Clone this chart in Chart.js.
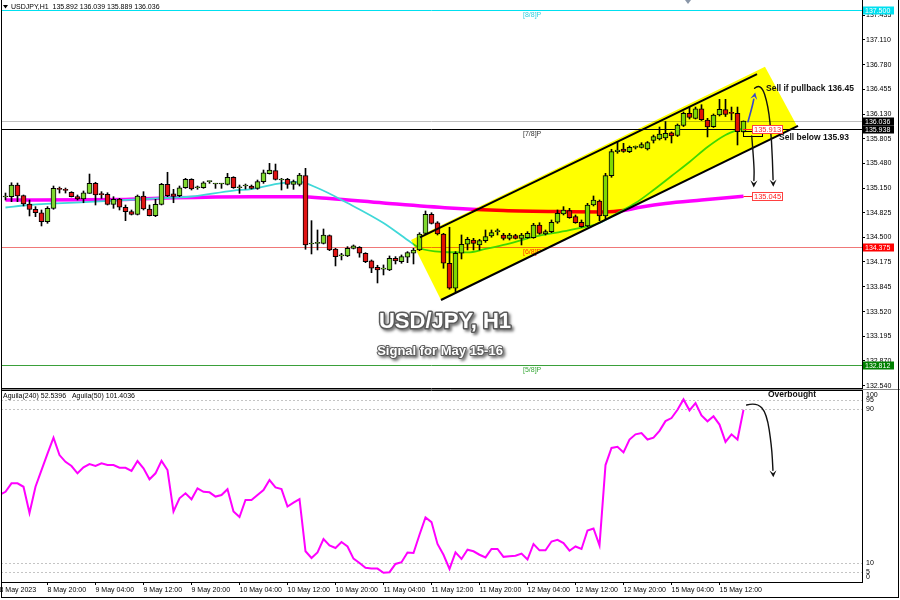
<!DOCTYPE html>
<html><head><meta charset="utf-8">
<script src="https://cdn.jsdelivr.net/npm/chart.js@4.4.0/dist/chart.umd.min.js"></script>
<style>
html,body{margin:0;padding:0;background:#fff;}
#wrap{position:relative;width:900px;height:600px;overflow:hidden;background:#fff;}
#main{position:absolute;left:0;top:0;}
#osc{position:absolute;left:0;top:388px;}
#frame{position:absolute;left:1px;top:-1px;width:896px;height:597px;border:1px solid #000;pointer-events:none;}
</style></head><body>
<div id="wrap"><canvas id="main" width="900" height="390"></canvas><canvas id="osc" width="900" height="212"></canvas><div id="frame"></div></div>
<script>
// ---------------- DATA ----------------
const open = [135.034,135.038,135.192,135.051,134.941,134.871,134.826,134.708,134.884,135.139,
135.126,135.096,135.038,135.007,135.082,135.214,135.069,135.069,134.937,135.007,
134.898,134.840,134.805,135.047,134.875,134.787,134.937,135.201,135.075,135.051,
135.156,135.267,135.156,135.156,135.236,135.205,135.205,135.201,135.294,135.156,
135.179,135.179,135.148,135.236,135.341,135.381,135.258,135.267,135.201,135.201,
135.315,134.413,134.422,134.422,134.523,134.347,134.255,134.255,134.356,134.370,
134.290,134.189,134.106,134.080,134.070,134.224,134.180,134.238,134.290,134.334,
134.554,134.805,134.694,134.545,134.158,133.828,134.290,134.409,134.466,134.400,
134.457,134.519,134.576,134.532,134.488,134.523,134.488,134.497,134.497,134.664,
134.545,134.576,134.700,134.809,134.853,134.774,134.700,134.651,134.928,134.981,
134.783,135.315,135.632,135.668,135.632,135.690,135.690,135.668,135.781,135.800,
135.814,135.880,135.846,135.978,136.139,136.073,136.200,136.051,135.962,136.117,
136.190,136.143,136.139,135.892];
const high = [135.086,135.222,135.218,135.060,134.994,134.906,134.862,134.906,135.179,135.166,
135.152,135.104,135.060,135.113,135.337,135.228,135.104,135.090,135.038,135.016,
134.928,134.862,135.060,135.104,134.928,135.003,135.214,135.360,135.135,135.179,
135.280,135.275,135.179,135.236,135.245,135.214,135.214,135.346,135.302,135.192,
135.205,135.192,135.258,135.390,135.478,135.469,135.280,135.280,135.258,135.346,
135.412,134.721,134.598,134.611,134.532,134.356,134.290,134.378,134.400,134.378,
134.298,134.202,134.132,134.136,134.255,134.246,134.268,134.312,134.356,134.562,
134.849,134.826,134.708,134.554,134.634,134.312,134.532,134.502,134.488,134.475,
134.598,134.598,134.611,134.554,134.554,134.541,134.554,134.576,134.686,134.694,
134.598,134.730,134.862,134.906,134.884,134.796,134.730,134.950,135.047,134.994,
135.346,135.664,135.764,135.743,135.707,135.707,135.751,135.766,135.852,135.958,
136.030,135.893,135.998,136.157,136.222,136.222,136.253,136.073,136.130,136.324,
136.324,136.222,136.222,136.039];
const low = [134.994,134.972,134.972,134.915,134.783,134.774,134.651,134.686,134.871,135.086,
135.086,135.034,134.994,134.958,135.082,134.928,135.016,134.928,134.884,134.862,
134.721,134.796,134.796,134.862,134.783,134.774,134.928,135.038,134.958,135.038,
135.148,135.126,135.135,135.148,135.214,135.148,135.148,135.192,135.148,135.082,
135.139,135.139,135.135,135.214,135.337,135.258,135.126,135.148,135.135,135.179,
134.343,134.281,134.334,134.413,134.325,134.123,134.202,134.246,134.347,134.238,
134.166,134.034,133.898,134.004,134.061,134.149,134.158,134.166,134.149,134.325,
134.545,134.677,134.532,134.092,133.815,133.784,134.215,134.334,134.334,134.334,
134.435,134.502,134.532,134.466,134.466,134.479,134.400,134.488,134.488,134.541,
134.532,134.563,134.686,134.796,134.752,134.686,134.633,134.642,134.915,134.721,
134.743,135.294,135.611,135.624,135.620,135.668,135.681,135.654,135.747,135.787,
135.787,135.747,135.833,135.965,136.064,136.064,136.044,135.827,135.952,136.104,
136.097,136.051,135.721,135.889];
const close = [135.047,135.192,135.047,134.941,134.871,134.826,134.708,134.884,135.148,135.135,
135.122,135.038,135.007,135.090,135.214,135.060,135.064,134.937,135.003,134.898,
134.840,134.805,135.047,134.875,134.787,134.937,135.201,135.051,135.040,135.156,
135.267,135.139,135.160,135.222,135.239,135.208,135.208,135.294,135.156,135.160,
135.183,135.148,135.236,135.354,135.390,135.267,135.270,135.201,135.236,135.324,
134.400,134.422,134.426,134.532,134.334,134.246,134.258,134.356,134.387,134.290,
134.180,134.092,134.070,134.084,134.224,134.189,134.246,134.298,134.334,134.545,
134.805,134.686,134.545,134.158,133.828,134.290,134.409,134.475,134.422,134.457,
134.510,134.563,134.578,134.488,134.532,134.488,134.532,134.554,134.664,134.554,
134.576,134.700,134.818,134.862,134.760,134.694,134.642,134.928,134.994,134.783,
135.315,135.632,135.654,135.635,135.690,135.694,135.727,135.753,135.833,135.866,
135.876,135.840,135.985,136.139,136.086,136.200,136.055,135.958,136.117,136.192,
136.124,136.139,135.896,136.036];

// Aguila oscillator, first value belongs to the bar just left of the first visible candle
const aguilaStart = -1;
const aguila = [45.3,47.0,51.4,51.4,49.6,35.9,49.6,58.3,66.9,75.2,
66.1,62.6,60.4,56.6,59.7,61.4,60.5,61.8,61.0,60.9,
59.5,59.5,57.9,63.0,59.2,53.5,56.6,63.1,58.3,36.7,
43.6,46.2,43.1,48.8,47.0,46.7,44.5,45.3,48.3,36.7,
33.8,42.7,42.7,45.3,47.9,53.1,49.3,48.4,39.3,41.3,
43.1,16.0,12.5,15.4,22.4,19.1,17.7,20.8,18.5,12.2,
9.9,7.4,7.0,7.0,4.8,5.1,9.4,10.3,15.4,15.1,
24.6,33.6,31.2,19.8,14.2,6.8,15.4,12.0,16.8,16.0,
14.2,12.8,17.2,17.2,13.1,13.4,13.7,14.8,11.7,19.8,
16.5,16.5,21.1,22.0,20.3,16.3,18.5,17.2,26.8,27.9,
19.1,60.9,69.8,70.4,67.5,74.2,76.9,77.6,74.2,75.2,
78.7,83.8,85.4,89.7,95.1,89.4,93.2,86.8,83.7,86.3,
82.0,73.0,76.9,74.2,89.7];

// moving averages (readings at selected bars)
const maFastIdx = [0,4,14,28,31,38,41,46,49,52,57,63,67,69,73,77,80,83,88,94,99,102,105,108,111,114,117,120,123];
const maFastVal = [134.895,134.928,134.968,135.027,135.040,135.119,135.139,135.218,135.232,135.152,134.954,134.690,134.466,134.360,134.307,134.301,134.347,134.400,134.506,134.597,134.690,134.822,134.954,135.126,135.311,135.496,135.694,135.853,135.945];
const maSlowIdx = [0,20,28,41,49,54,63,74,83,94,100,103,106,110,116,123];
const maSlowVal = [134.994,135.001,135.023,135.038,135.038,135.014,134.954,134.888,134.855,134.840,134.836,134.855,134.901,134.948,134.994,135.045];

const priceTicks = [137.435,137.110,136.780,136.455,136.130,135.805,135.480,135.150,134.825,134.500,134.175,133.845,133.520,133.195,132.870,132.540];
const levelPrices = [137.500,136.036,135.938,134.375,132.812];
const levelNames = ['[8/8]P','','[7/8]P','[6/8]P','[5/8]P'];
const timeTicks = [-1,7,15,23,31,39,47,55,63,71,79,87,95,103,111,119];
const timeTickLabels = ['8 May 2023','8 May 20:00','9 May 04:00','9 May 12:00','9 May 20:00','10 May 04:00','10 May 12:00','10 May 20:00','11 May 04:00','11 May 12:00','11 May 20:00','12 May 04:00','12 May 12:00','12 May 20:00','15 May 04:00','15 May 12:00'];
const oscLevels = [95,90,10,5];
const oscScaleLabels = [100,95,90,10,5,0];
const headerText = 'USDJPY,H1  135.892 136.039 135.889 136.036';
const legendText = 'Aguila(240) 52.5396   Aguila(50) 101.4036';

// annotations in data coordinates (bar index, price / oscillator value)
const ann = {
  channel: [[67.58,134.466],[126.58,136.755],[131.92,135.972],[72.58,133.673]],
  upperLine: [[69.08,134.501],[125.25,136.658]],
  lowerLine: [[72.58,133.673],[132.08,135.972]],
  zoneRect: [122.92,135.899,126.08,135.839],
  blueArrow: [[123.75,136.028],[124.45,136.226],[124.95,136.415]],
  archArrow: [[124.85,136.47],[125.9,136.54],[127.13,136.24],[127.7,135.787],[127.97,135.17]],
  dropArrow: [[124.37,135.839],[124.8,135.434],[124.7,135.16]],
  priceTag1: {text:'135.913', at:[124.42,135.935], from:122.92},
  priceTag2: {text:'135.045', at:[124.42,135.045], from:123},
  sellUp: {text:'Sell if pullback 136.45', at:[126.75,136.46]},
  sellDown: {text:'Sell below 135.93', at:[128.92,135.817]},
  title: {text:'USD/JPY, H1', at:[73.25,133.382]},
  subtitle: {text:'Signal for May 15-16', at:[72.42,132.999]},
  levelTextAt: 86.25,
  shiftMark: 113.75,
  overbought: {text:'Overbought', at:[127.08,97.4]},
  oscArrow: [[123.53,92.2],[125.2,93.6],[126.87,87.9],[127.7,70.5],[127.97,54.5]]
};

// ---------------- STYLE ----------------
const FONT = '"Liberation Sans", Arial, sans-serif';
const GREEN = '#7fd830', RED = '#e01414';
const levelStyle = [
  {line:'#00e0f0', text:'#30d0e0', box:'#00e0f0'},
  {line:'#c0c0c0', text:'#000', box:'#000'},
  {line:'#000000', text:'#333', box:'#000'},
  {line:'#f07878', text:'#ff3030', box:'#ff0000'},
  {line:'#3aa03a', text:'#38a838', box:'#008000'}
];
const X_MIN = -0.75, X_MAX = 142.75;
Chart.defaults.font.family = FONT;
Chart.defaults.font.size = 7;
Chart.defaults.color = '#000';

function smoothPath(ctx, pts){
  ctx.moveTo(pts[0][0], pts[0][1]);
  for (let k = 1; k < pts.length - 1; k++) {
    const mx = (pts[k][0] + pts[k+1][0]) / 2, my = (pts[k][1] + pts[k+1][1]) / 2;
    ctx.quadraticCurveTo(pts[k][0], pts[k][1], mx, my);
  }
  const l = pts[pts.length-1]; ctx.lineTo(l[0], l[1]);
}
function arrow(ctx, pts, color, width){
  ctx.save();
  ctx.strokeStyle = color; ctx.fillStyle = color; ctx.lineWidth = width; ctx.lineJoin='round'; ctx.lineCap='round';
  const n = pts.length, e = pts[n-1], s = pts[n-2];
  const ang = Math.atan2(e[1]-s[1], e[0]-s[0]);
  const L = 7, W = 3.5;
  const bx = e[0] - Math.cos(ang)*L, by = e[1] - Math.sin(ang)*L;
  const line = pts.slice(0, n-1).concat([[bx, by]]);
  ctx.beginPath(); smoothPath(ctx, line); ctx.stroke();
  ctx.beginPath();
  ctx.moveTo(e[0], e[1]);
  ctx.lineTo(bx - Math.sin(ang)*W, by + Math.cos(ang)*W);
  ctx.lineTo(e[0] - Math.cos(ang)*L*0.6, e[1] - Math.sin(ang)*L*0.6);
  ctx.lineTo(bx + Math.sin(ang)*W, by - Math.cos(ang)*W);
  ctx.closePath(); ctx.fill();
  ctx.restore();
}

const mainDecor = {
  id: 'mainDecor',
  beforeDatasetsDraw(chart){
    const {ctx, chartArea:a, scales:{x, y}} = chart;
    ctx.save();
    levelPrices.forEach((p, k) => {
      const yy = Math.round(y.getPixelForValue(p)) + 0.5;
      ctx.strokeStyle = levelStyle[k].line; ctx.lineWidth = 1;
      ctx.beginPath(); ctx.moveTo(a.left, yy); ctx.lineTo(a.right, yy); ctx.stroke();
      if (levelNames[k]) {
        ctx.fillStyle = levelStyle[k].text; ctx.font = '7px ' + FONT;
        ctx.textAlign = 'left'; ctx.textBaseline = 'top';
        ctx.fillText(levelNames[k], x.getPixelForValue(ann.levelTextAt), yy + 1.5);
      }
    });
    ctx.restore();
  },
  afterDatasetsDraw(chart){
    const {ctx, chartArea:a, scales:{x, y}} = chart;
    const P = (d) => [x.getPixelForValue(d[0]), y.getPixelForValue(d[1])];
    ctx.save();
    ctx.beginPath(); ctx.rect(a.left, a.top, a.right - a.left, a.bottom - a.top); ctx.clip();
    // yellow channel (multiplied like MT4 filled objects)
    ctx.save();
    ctx.globalCompositeOperation = 'multiply';
    ctx.fillStyle = '#ffff00';
    ctx.beginPath();
    ann.channel.map(P).forEach((p, k) => k ? ctx.lineTo(p[0], p[1]) : ctx.moveTo(p[0], p[1]));
    ctx.closePath(); ctx.fill();
    ctx.restore();
    // channel lines
    ctx.strokeStyle = '#000'; ctx.lineWidth = 2;
    [ann.upperLine, ann.lowerLine].forEach(l => {
      const p0 = P(l[0]), p1 = P(l[1]);
      ctx.beginPath(); ctx.moveTo(p0[0], p0[1]); ctx.lineTo(p1[0], p1[1]); ctx.stroke();
    });
    // zone rectangle
    const r0 = P([ann.zoneRect[0], ann.zoneRect[1]]), r1 = P([ann.zoneRect[2], ann.zoneRect[3]]);
    ctx.lineWidth = 1; ctx.strokeStyle = '#000';
    ctx.strokeRect(Math.round(r0[0]) + 0.5, Math.round(r0[1]) + 0.5, Math.round(r1[0] - r0[0]), Math.round(r1[1] - r0[1]));
    // arrows
    arrow(ctx, ann.blueArrow.map(P), '#3a48c8', 1.6);
    arrow(ctx, ann.archArrow.map(P), '#111', 1.4);
    arrow(ctx, ann.dropArrow.map(P), '#111', 1.4);
    // price tags
    [ann.priceTag1, ann.priceTag2].forEach(t => {
      const p = P(t.at), f = P([t.from, t.at[1]]);
      const yy = Math.round(p[1]) + 0.5;
      ctx.strokeStyle = '#ff2020'; ctx.lineWidth = 1;
      ctx.beginPath(); ctx.moveTo(f[0], yy); ctx.lineTo(p[0], yy); ctx.stroke();
      ctx.fillStyle = '#fff';
      ctx.fillRect(Math.round(p[0]) + 0.5, yy - 4, 30, 8);
      ctx.strokeStyle = '#ff4040';
      ctx.strokeRect(Math.round(p[0]) + 0.5, yy - 4, 30, 8);
      ctx.fillStyle = '#ff2020'; ctx.font = '7.5px ' + FONT; ctx.textAlign = 'left'; ctx.textBaseline = 'middle';
      ctx.fillText(t.text, Math.round(p[0]) + 2, yy + 0.5);
    });
    // sell texts
    ctx.fillStyle = '#111'; ctx.font = 'bold 8.5px ' + FONT; ctx.textAlign = 'left'; ctx.textBaseline = 'middle';
    [ann.sellUp, ann.sellDown].forEach(t => { const p = P(t.at); ctx.fillText(t.text, p[0], p[1]); });
    // titles
    [[ann.title, 'bold 22px ' + FONT, 3], [ann.subtitle, 'bold 13px ' + FONT, 2]].forEach(([t, font, lw]) => {
      const p = P(t.at);
      ctx.font = font; ctx.textAlign = 'center'; ctx.textBaseline = 'middle';
      ctx.save();
      ctx.shadowColor = 'rgba(0,0,0,0.55)'; ctx.shadowBlur = 3; ctx.shadowOffsetX = 2; ctx.shadowOffsetY = 2;
      ctx.lineWidth = lw; ctx.strokeStyle = '#5a5a5a'; ctx.lineJoin = 'round';
      ctx.strokeText(t.text, p[0], p[1]);
      ctx.restore();
      ctx.fillStyle = '#fff'; ctx.fillText(t.text, p[0], p[1]);
    });
    ctx.restore();
    // header
    ctx.save();
    ctx.fillStyle = '#000';
    ctx.beginPath(); ctx.moveTo(3, 5); ctx.lineTo(8, 5); ctx.lineTo(5.5, 8.5); ctx.closePath(); ctx.fill();
    ctx.font = '7px ' + FONT; ctx.textAlign = 'left'; ctx.textBaseline = 'middle';
    ctx.fillText(headerText, 11, 7);
    // shift marker
    const sx = x.getPixelForValue(ann.shiftMark);
    ctx.fillStyle = '#8a96a8';
    ctx.beginPath(); ctx.moveTo(sx - 3, 0); ctx.lineTo(sx + 3, 0); ctx.lineTo(sx, 4); ctx.closePath(); ctx.fill();
    // bottom border of price panel
    ctx.strokeStyle = '#000'; ctx.lineWidth = 1;
    ctx.beginPath(); ctx.moveTo(a.left, a.bottom + 0.5); ctx.lineTo(a.right, a.bottom + 0.5); ctx.stroke();
    ctx.strokeStyle = '#888';
    ctx.beginPath(); ctx.moveTo(a.left, a.bottom + 1.5); ctx.lineTo(900, a.bottom + 1.5); ctx.stroke();
    // price boxes on the axis
    levelPrices.forEach((p, k) => {
      const yy = Math.round(y.getPixelForValue(p)) + 0.5;
      ctx.fillStyle = levelStyle[k].box;
      ctx.fillRect(a.right + 1, yy - 4, 31, 8);
      ctx.fillStyle = '#fff'; ctx.font = '7px ' + FONT; ctx.textAlign = 'left'; ctx.textBaseline = 'middle';
      ctx.fillText(p.toFixed(3), a.right + 3, yy + 0.5);
    });
    ctx.restore();
  }
};

const mainChart = new Chart(document.getElementById('main'), {
  type: 'bar',
  data: {
    datasets: [
      { type:'bar', label:'wicks', data: open.map((o, i) => ({x:i, y:[low[i], high[i]]})),
        backgroundColor:'#000', barThickness:1, grouped:false, order:2 },
      { type:'bar', label:'bodies', data: open.map((o, i) => ({x:i, y:[o, close[i]]})),
        backgroundColor: open.map((o, i) => close[i] >= o ? GREEN : RED),
        borderColor:'#000', borderWidth:1, borderSkipped:false, barThickness:5, minBarLength:1, grouped:false, order:1 },
      { type:'line', label:'MA fast', data: maFastIdx.map((v, k) => ({x:v, y:maFastVal[k]})),
        borderColor:'#40d8d8', borderWidth:1.8, pointRadius:0, cubicInterpolationMode:'monotone', order:3 },
      { type:'line', label:'MA slow', data: maSlowIdx.map((v, k) => ({x:v, y:maSlowVal[k]})),
        borderColor:'#ff00ff', borderWidth:3.5, pointRadius:0, cubicInterpolationMode:'monotone', order:4 }
    ]
  },
  options: {
    responsive:false, animation:false, devicePixelRatio:1,
    layout:{padding:{left:1, top:0, right:0, bottom:2}},
    plugins:{legend:{display:false}, tooltip:{enabled:false}},
    scales:{
      x:{type:'linear', min:X_MIN, max:X_MAX, display:false, offset:false},
      y:{type:'linear', position:'right', min:132.5105, max:137.636,
         afterFit(s){ s.width = 38; s.paddingTop = 0; s.paddingBottom = 0; },
         afterBuildTicks(s){ s.ticks = priceTicks.map(v => ({value:v})); },
         ticks:{autoSkip:false, padding:1, font:{size:7}, color:'#000', callback:(v) => Number(v).toFixed(3)},
         grid:{drawOnChartArea:false, tickLength:3, color:'#000'},
         border:{display:true, color:'#000'}}
    }
  },
  plugins:[mainDecor]
});

const oscDecor = {
  id:'oscDecor',
  beforeDatasetsDraw(chart){
    const {ctx, chartArea:a, scales:{y}} = chart;
    ctx.save();
    ctx.strokeStyle = '#c4c4c4'; ctx.lineWidth = 1; ctx.setLineDash([2, 2]);
    oscLevels.forEach(v => {
      const yy = Math.round(y.getPixelForValue(v)) + 0.5;
      ctx.beginPath(); ctx.moveTo(a.left, yy); ctx.lineTo(a.right, yy); ctx.stroke();
    });
    ctx.restore();
  },
  afterDatasetsDraw(chart){
    const {ctx, chartArea:a, scales:{x, y}} = chart;
    const P = (d) => [x.getPixelForValue(d[0]), y.getPixelForValue(d[1])];
    ctx.save();
    ctx.strokeStyle = '#000'; ctx.lineWidth = 1;
    ctx.beginPath(); ctx.moveTo(a.left, a.top + 0.5); ctx.lineTo(a.right, a.top + 0.5); ctx.stroke();
    ctx.fillStyle = '#000'; ctx.font = '7px ' + FONT; ctx.textAlign = 'left'; ctx.textBaseline = 'middle';
    ctx.fillText(legendText, 3, a.top + 6);
    oscScaleLabels.forEach(v => {
      let yy = y.getPixelForValue(v);
      if (v === 100) yy += 5; if (v === 0) yy -= 5;
      ctx.fillText(String(v), a.right + 4, yy);
    });
    const ob = P(ann.overbought.at);
    ctx.font = 'bold 8.5px ' + FONT; ctx.fillStyle = '#111';
    ctx.fillText(ann.overbought.text, ob[0], ob[1]);
    arrow(ctx, ann.oscArrow.map(P), '#111', 1.4);
    ctx.restore();
  }
};

const oscChart = new Chart(document.getElementById('osc'), {
  type:'line',
  data:{ datasets:[{ label:'Aguila', data: aguila.map((v, k) => ({x: aguilaStart + k, y: v})),
    borderColor:'#ff00ff', borderWidth:2, pointRadius:0, tension:0 }] },
  options:{
    responsive:false, animation:false, devicePixelRatio:1,
    layout:{padding:{left:1, top:2, right:0, bottom:0}},
    plugins:{legend:{display:false}, tooltip:{enabled:false}},
    scales:{
      x:{type:'linear', min:X_MIN, max:X_MAX, offset:false,
         afterFit(s){ s.height = 18; s.paddingLeft = 0; s.paddingRight = 0; },
         afterBuildTicks(s){ s.ticks = timeTicks.map(v => ({value:v})); },
         ticks:{autoSkip:false, maxRotation:0, minRotation:0, align:'start', padding:1, font:{size:7}, color:'#000',
                callback:(v, i) => timeTickLabels[i]},
         grid:{drawOnChartArea:false, tickLength:3, color:'#000'},
         border:{display:true, color:'#000'}},
      y:{type:'linear', position:'right', min:0, max:100,
         afterFit(s){ s.width = 38; s.paddingTop = 0; s.paddingBottom = 0; },
         ticks:{display:false}, grid:{display:false},
         border:{display:true, color:'#000'}}
    }
  },
  plugins:[oscDecor]
});
</script></body></html>
